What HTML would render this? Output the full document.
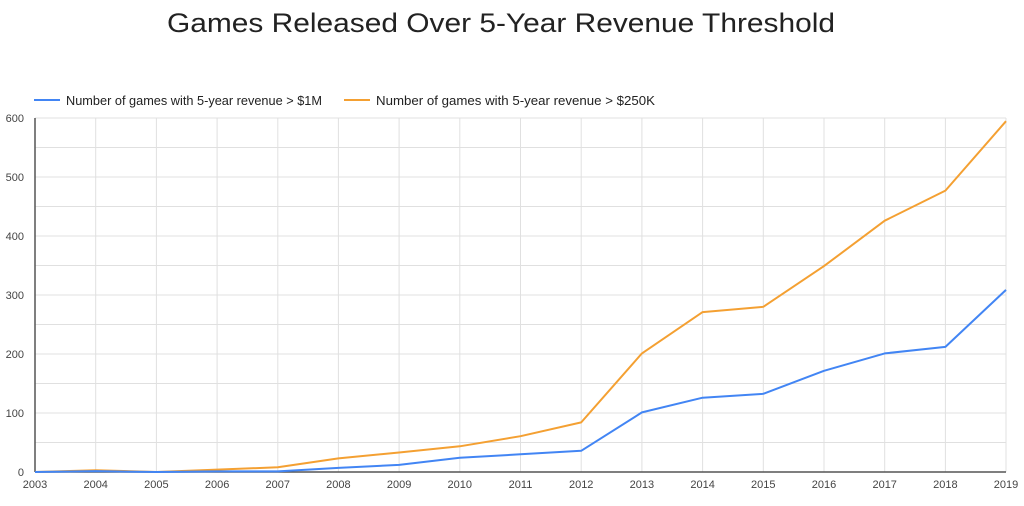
<!DOCTYPE html>
<html><head><meta charset="utf-8"><style>
html,body{margin:0;padding:0;background:#fff;}
svg{display:block;}
text{font-family:"Liberation Sans",Arial,sans-serif;}
</style></head><body>
<svg width="1024" height="506" viewBox="0 0 1024 506" xmlns="http://www.w3.org/2000/svg">
<rect width="1024" height="506" fill="#fff"/>
<text x="501" y="32" font-size="27" fill="#222" text-anchor="middle" textLength="668" lengthAdjust="spacingAndGlyphs">Games Released Over 5-Year Revenue Threshold</text>
<!-- legend -->
<line x1="34" y1="100" x2="60" y2="100" stroke="#4285f4" stroke-width="2"/>
<text x="66" y="105" font-size="13" fill="#222" textLength="256" lengthAdjust="spacingAndGlyphs">Number of games with 5-year revenue &gt; $1M</text>
<line x1="344" y1="100" x2="370" y2="100" stroke="#f4a032" stroke-width="2"/>
<text x="376" y="105" font-size="13" fill="#222" textLength="279" lengthAdjust="spacingAndGlyphs">Number of games with 5-year revenue &gt; $250K</text>
<!-- horizontal grid -->
<g stroke="#e0e0e0" stroke-width="1">
<line x1="35" x2="1006" y1="442.5" y2="442.5"/>
<line x1="35" x2="1006" y1="413" y2="413"/>
<line x1="35" x2="1006" y1="383.5" y2="383.5"/>
<line x1="35" x2="1006" y1="354" y2="354"/>
<line x1="35" x2="1006" y1="324.5" y2="324.5"/>
<line x1="35" x2="1006" y1="295" y2="295"/>
<line x1="35" x2="1006" y1="265.5" y2="265.5"/>
<line x1="35" x2="1006" y1="236" y2="236"/>
<line x1="35" x2="1006" y1="206.5" y2="206.5"/>
<line x1="35" x2="1006" y1="177" y2="177"/>
<line x1="35" x2="1006" y1="147.5" y2="147.5"/>
<line x1="35" x2="1006" y1="118" y2="118"/>
<line y1="118" y2="472" x1="95.7" x2="95.7"/>
<line y1="118" y2="472" x1="156.4" x2="156.4"/>
<line y1="118" y2="472" x1="217.1" x2="217.1"/>
<line y1="118" y2="472" x1="277.8" x2="277.8"/>
<line y1="118" y2="472" x1="338.4" x2="338.4"/>
<line y1="118" y2="472" x1="399.1" x2="399.1"/>
<line y1="118" y2="472" x1="459.8" x2="459.8"/>
<line y1="118" y2="472" x1="520.5" x2="520.5"/>
<line y1="118" y2="472" x1="581.2" x2="581.2"/>
<line y1="118" y2="472" x1="641.9" x2="641.9"/>
<line y1="118" y2="472" x1="702.6" x2="702.6"/>
<line y1="118" y2="472" x1="763.3" x2="763.3"/>
<line y1="118" y2="472" x1="824" x2="824"/>
<line y1="118" y2="472" x1="884.7" x2="884.7"/>
<line y1="118" y2="472" x1="945.4" x2="945.4"/>
<line y1="118" y2="472" x1="1006" x2="1006"/>
</g>
<!-- axes -->
<line x1="35" y1="118" x2="35" y2="472" stroke="#555" stroke-width="1.5"/>
<line x1="35" y1="472" x2="1006" y2="472" stroke="#555" stroke-width="1.5"/>
<!-- y labels -->
<g font-size="11" fill="#444" text-anchor="end">
<text x="24" y="476">0</text>
<text x="24" y="417">100</text>
<text x="24" y="358">200</text>
<text x="24" y="299">300</text>
<text x="24" y="240">400</text>
<text x="24" y="181">500</text>
<text x="24" y="122">600</text>
</g>
<!-- x labels -->
<g font-size="11" fill="#444" text-anchor="middle">
<text x="35" y="488">2003</text>
<text x="95.7" y="488">2004</text>
<text x="156.4" y="488">2005</text>
<text x="217.1" y="488">2006</text>
<text x="277.8" y="488">2007</text>
<text x="338.4" y="488">2008</text>
<text x="399.1" y="488">2009</text>
<text x="459.8" y="488">2010</text>
<text x="520.5" y="488">2011</text>
<text x="581.2" y="488">2012</text>
<text x="641.9" y="488">2013</text>
<text x="702.6" y="488">2014</text>
<text x="763.3" y="488">2015</text>
<text x="824" y="488">2016</text>
<text x="884.7" y="488">2017</text>
<text x="945.4" y="488">2018</text>
<text x="1006" y="488">2019</text>
</g>
<!-- series -->
<polyline fill="none" stroke="#f4a032" stroke-width="2" stroke-linejoin="round" points="35,472 95.7,470.2 156.4,472 217.1,469.6 277.8,467.3 338.4,458.4 399.1,452.5 459.8,446.3 520.5,436.2 581.2,422.4 641.9,353.4 702.6,312.1 763.3,306.8 824,266.1 884.7,220.7 945.4,190.6 1006,121.2"/>
<polyline fill="none" stroke="#4285f4" stroke-width="2" stroke-linejoin="round" points="35,472 95.7,471.1 156.4,472 217.1,471.4 277.8,471.4 338.4,467.9 399.1,464.9 459.8,457.8 520.5,454.3 581.2,450.8 641.9,412.4 702.6,397.7 763.3,393.8 824,370.8 884.7,353.4 945.4,346.9 1006,289.9"/>
</svg>
</body></html>
